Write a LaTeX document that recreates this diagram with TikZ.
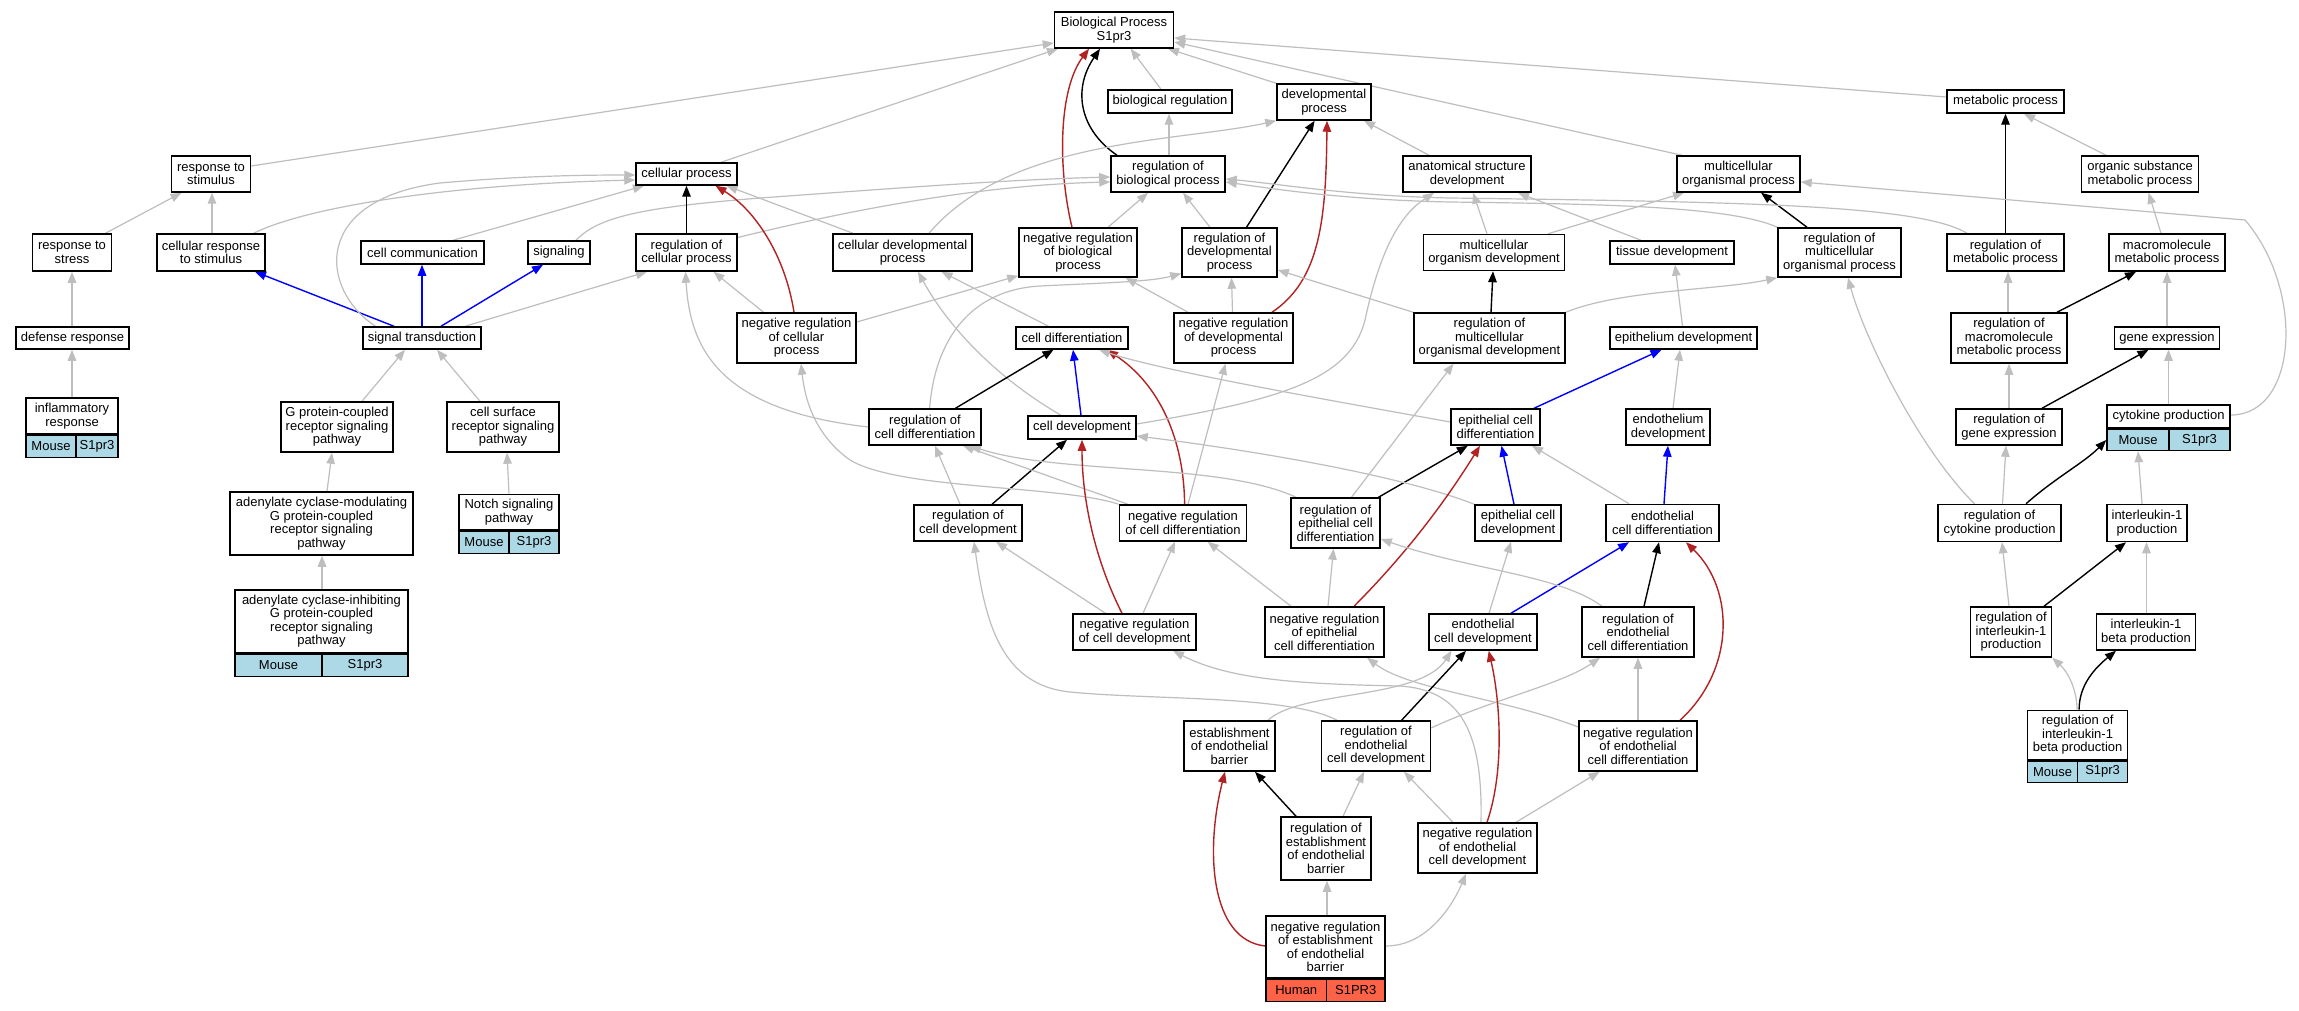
\documentclass[tikz,border=0pt]{standalone}
\usepackage{fontspec}
\setmainfont{Liberation Sans}
\usetikzlibrary{arrows.meta}
\pgfdeclarelayer{bg}
\pgfsetlayers{bg,main}
\definecolor{egc}{HTML}{BEBEBE}
\definecolor{erc}{HTML}{B22222}
\definecolor{ebc}{HTML}{0000FF}
\definecolor{lb}{HTML}{ADD8E6}
\definecolor{hum}{HTML}{FF6347}
\newcommand\nd[6]{\node[box,minimum width=#4pt,minimum height=#5pt] (#1) at (#2,#3) {#6};}
\newcommand\genes[7]{%
 \node[cell,fill=#2,minimum width=#3pt,minimum height=#7pt,anchor=north west] (#1M) at (#1.south west) {#5};
 \node[cell,fill=#2,minimum width=#4pt,minimum height=#7pt,anchor=north east] (#1S) at (#1.south east) {#6};}
\begin{document}
\begin{tikzpicture}[x=1pt,y=-1pt,
 box/.style={draw=black,line width=1.5pt,fill=white,inner sep=0pt,align=center,font=\fontsize{13}{13.5}\selectfont},
 cell/.style={draw=black,line width=1.5pt,inner sep=0pt,font=\fontsize{13}{13.5}\selectfont},
 edge/.style={line width=1.2pt,-{Triangle[length=11pt,width=8.5pt]}},
 eg/.style={edge,color=egc},
 ek/.style={edge,color=black,line width=1.4pt},
 er/.style={edge,color=erc,line width=1.4pt},
 eb/.style={edge,color=ebc,line width=1.4pt}]
\useasboundingbox (0,0) rectangle (2299,1011);
% nodes
\nd{bp}{1114}{30}{119}{36}{Biological Process\\S1pr3}
\nd{breg}{1170}{101.5}{124}{23}{biological regulation}
\nd{dev}{1324}{102}{94}{36}{developmental\\process}
\nd{met}{2005.5}{101.5}{117}{23}{metabolic process}
\nd{rstim}{211}{174}{79}{36}{response to\\stimulus}
\nd{cp}{686.5}{174}{101}{22}{cellular process}
\nd{rbp}{1168}{174}{114}{36}{regulation of\\biological process}
\nd{asd}{1467}{174}{128}{36}{anatomical structure\\development}
\nd{mop}{1738.5}{174}{123}{36}{multicellular\\organismal process}
\nd{osmp}{2140}{174}{117}{36}{organic substance\\metabolic process}
\nd{rstress}{72}{252.5}{79}{37}{response to\\stress}
\nd{crs}{211}{252.5}{108}{37}{cellular response\\to stimulus}
\nd{ccomm}{422.5}{252.5}{123}{23}{cell communication}
\nd{sig}{559}{252.5}{62}{23}{signaling}
\nd{rcp}{686.5}{252.5}{101}{37}{regulation of\\cellular process}
\nd{cdp}{902.5}{252.5}{139}{37}{cellular developmental\\process}
\nd{nrbp}{1078}{252.5}{118}{49}{negative regulation\\of biological\\process}
\nd{rdp}{1229.5}{252.5}{95}{49}{regulation of\\developmental\\process}
\nd{mod}{1494}{252.5}{141}{36}{multicellular\\organism development}
\nd{td}{1672}{252.5}{124}{23}{tissue development}
\nd{rmop}{1839.5}{252.5}{123}{49}{regulation of\\multicellular\\organismal process}
\nd{rmp}{2005.5}{252.5}{117}{37}{regulation of\\metabolic process}
\nd{mmp}{2167}{252.5}{116}{37}{macromolecule\\metabolic process}
\nd{def}{72.5}{338}{113}{22}{defense response}
\nd{st}{422}{338}{118}{22}{signal transduction}
\nd{nrcp}{796.5}{338}{119}{50}{negative regulation\\of cellular\\process}
\nd{cd}{1072}{338}{112}{22}{cell differentiation}
\nd{nrdp}{1233.5}{338}{119}{50}{negative regulation\\of developmental\\process}
\nd{rmod}{1489.5}{338}{151}{50}{regulation of\\multicellular\\organismal development}
\nd{epd}{1683.5}{338}{147}{22}{epithelium development}
\nd{rmmp}{2009}{338}{116}{50}{regulation of\\macromolecule\\metabolic process}
\nd{ge}{2167}{338}{105}{22}{gene expression}
\nd{infl}{72}{416}{92}{36}{inflammatory\\response}
\nd{gpcr}{337}{427}{112}{50}{G protein-coupled\\receptor signaling\\pathway}
\nd{csr}{503}{427}{112}{50}{cell surface\\receptor signaling\\pathway}
\nd{rcd}{925}{427}{112}{36}{regulation of\\cell differentiation}
\nd{cdev}{1082}{427.5}{108}{23}{cell development}
\nd{ecd}{1495.5}{427}{89}{36}{epithelial cell\\differentiation}
\nd{endev}{1668}{427}{84}{36}{endothelium\\development}
\nd{rge}{2009}{427}{106}{36}{regulation of\\gene expression}
\nd{cyto}{2168.5}{416.5}{123}{23}{cytokine production}
\nd{acm}{321.5}{523.5}{183}{63}{adenylate cyclase-modulating\\G protein-coupled\\receptor signaling\\pathway}
\nd{notch}{509}{512}{100}{35.5}{Notch signaling\\pathway}
\nd{rcdev}{968}{523}{108}{36}{regulation of\\cell development}
\nd{nrcd}{1183}{523}{127}{36}{negative regulation\\of cell differentiation}
\nd{repcd}{1335.5}{523}{89}{50}{regulation of\\epithelial cell\\differentiation}
\nd{ecdev}{1518}{523}{86}{36}{epithelial cell\\development}
\nd{ecdiff}{1662.5}{523}{113}{37}{endothelial\\cell differentiation}
\nd{rcyp}{1999.5}{523}{123}{37}{regulation of\\cytokine production}
\nd{il1}{2147}{523}{80}{37}{interleukin-1\\production}
\nd{aci}{321.5}{621}{173}{62.5}{adenylate cyclase-inhibiting\\G protein-coupled\\receptor signaling\\pathway}
\nd{nrcdev}{1134.5}{632}{123}{36}{negative regulation\\of cell development}
\nd{nrepcd}{1324.5}{632}{119}{50}{negative regulation\\of epithelial\\cell differentiation}
\nd{endcdev}{1483}{632}{108}{36}{endothelial\\cell development}
\nd{recd}{1638}{632}{112}{50}{regulation of\\endothelial\\cell differentiation}
\nd{ril1}{2011}{632}{81}{50}{regulation of\\interleukin-1\\production}
\nd{il1b}{2146}{632}{99}{36}{interleukin-1\\beta production}
\nd{eeb}{1229.5}{746}{91}{50}{establishment\\of endothelial\\barrier}
\nd{redev}{1376}{746}{109}{50}{regulation of\\endothelial\\cell development}
\nd{nrecd}{1638}{746}{118}{50}{negative regulation\\of endothelial\\cell differentiation}
\nd{ril1b}{2077.6}{735}{100}{49.5}{regulation of\\interleukin-1\\beta production}
\nd{reeb}{1326}{848.5}{90}{63}{regulation of\\establishment\\of endothelial\\barrier}
\nd{nredev}{1477.5}{848}{119}{50}{negative regulation\\of endothelial\\cell development}
\nd{nreeb}{1325.5}{947}{119}{62}{negative regulation\\of establishment\\of endothelial\\barrier}
% gene rows
\genes{infl}{lb}{50}{42}{Mouse}{S1pr3}{22}
\genes{notch}{lb}{50}{50}{Mouse}{S1pr3}{22}
\genes{aci}{lb}{87}{86}{Mouse}{S1pr3}{22.5}
\genes{cyto}{lb}{62}{61}{Mouse}{S1pr3}{21}
\genes{ril1b}{lb}{50}{50}{Mouse}{S1pr3}{21}
\genes{nreeb}{hum}{60.5}{58.5}{Human}{S1PR3}{22}
\begin{pgfonlayer}{bg}
\fill[white] (0,0) rectangle (2299,1011);
\draw[eg] ([yshift=8pt]rstim.east) -- ([yshift=-13pt]bp.west);
\draw[eg] ([xshift=34.5pt]cp.north) -- ([xshift=-56pt]bp.south);
\draw[eg] ([xshift=-9pt]breg.north) -- ([xshift=16.6pt]bp.south);
\draw[eg] (dev.north west) -- ([xshift=54pt]bp.south);
\draw[eg] ([xshift=-56.5pt]mop.north) -- ([yshift=-12pt]bp.east);
\draw[eg] ([yshift=4.5pt]met.west) -- ([yshift=-8pt]bp.east);
\draw[ek] ([xshift=-51pt]rbp.north) .. controls (1080,130) and (1072,90) .. ([xshift=-14pt]bp.south);
\draw[er] ([xshift=-6pt]nrbp.north) .. controls (1058,170) and (1058,90) .. ([xshift=-25pt]bp.south);
\draw[eg] ([xshift=1pt]rbp.north) -- ([xshift=-1pt]breg.south);
\draw[eg] ([xshift=-38pt]asd.north) -- ([xshift=40pt]dev.south);
\draw[eg] ([xshift=26.5pt]cdp.north) .. controls (1010,138) and (1180,142) .. (dev.south west);
\draw[ek] ([xshift=17pt]rdp.north) -- ([xshift=-9.4pt]dev.south);
\draw[er] ([xshift=38.5pt]nrdp.north) .. controls (1320,280) and (1326,220) .. ([xshift=3pt]dev.south);
\draw[eg] ([xshift=-34pt]osmp.north) -- ([xshift=18.5pt]met.south);
\draw[ek] (rmp.north) -- (met.south);
\draw[eg] ([xshift=-6pt]mmp.north) -- ([xshift=8.5pt]osmp.south);
\draw[ek] ([xshift=-32.5pt]rmop.north) -- ([xshift=22.5pt]mop.south);
\draw[eg] ([xshift=54pt]mod.north) -- ([xshift=-54.5pt]mop.south);
\draw[eg] ([xshift=-7pt]mod.north) -- ([xshift=6pt]asd.south);
\draw[eg] ([xshift=-31pt]td.north) -- ([xshift=51pt]asd.south);
\draw[eg] (rmop.north west) .. controls (1730,206) and (1600,204) .. (1450,202) .. controls (1350,200) and (1280,190) .. ([yshift=-8pt]rbp.east);
\draw[eg] ([xshift=-38.5pt]rmp.north) .. controls (1920,205) and (1750,202) .. (1450,198) .. controls (1350,196) and (1280,184) .. ([yshift=-5pt]rbp.east);
\draw[eg] ([yshift=1.5pt]cyto.east) .. controls (2298,415) and (2305,290) .. (2245,220) -- ([yshift=-8pt]mop.east);
\draw[eg] (ge.north) -- (mmp.south);
\draw[ek] ([xshift=48pt]rmmp.north) -- ([xshift=-31pt]mmp.south);
\draw[eg] ([xshift=-1pt]rmmp.north) -- ([xshift=2.5pt]rmp.south);
\draw[ek] ([xshift=33pt]rge.north) -- ([xshift=-18.5pt]ge.south);
\draw[eg] (rge.north) -- (rmmp.south);
\draw[eg] (cyto.north) -- ([xshift=1.5pt]ge.south);
\draw[ek] ([xshift=26.5pt]rcyp.north) .. controls (2055,478) and (2085,462) .. (cytoM.west);
\draw[eg] ([xshift=3pt]rcyp.north) -- ([xshift=-3pt]rge.south);
\draw[eg] ([xshift=-25pt]rcyp.north) .. controls (1920,450) and (1865,340) .. ([xshift=8.5pt]rmop.south);
\draw[eg] ([xshift=-5pt]il1.north) -- (cytoM.south);
\draw[eg] ([xshift=0.5pt]il1b.north) -- ([xshift=-0.5pt]il1.south);
\draw[ek] ([xshift=33pt]ril1.north) -- ([xshift=-21pt]il1.south);
\draw[eg] ([xshift=-2pt]ril1.north) -- ([xshift=2.5pt]rcyp.south);
\draw[eg] ([xshift=-0.6pt]ril1b.north) .. controls (2077,690) and (2068,672) .. (ril1.south east);
\draw[ek] ([xshift=1.5pt]ril1b.north) .. controls (2079,685) and (2095,668) .. ([xshift=-30pt]il1b.south);
\draw[eg] ([xshift=33.5pt]rstress.north) -- ([xshift=-29.5pt]rstim.south);
\draw[eg] ([xshift=1pt]crs.north) -- ([xshift=1pt]rstim.south);
\draw[eg] ([xshift=42.7pt]crs.north) .. controls (300,210) and (430,185) .. ([yshift=-6pt]cp.west);
\draw[eg] ([xshift=-0.5pt]def.north) -- (rstress.south);
\draw[eg] (infl.north) -- ([xshift=-0.5pt]def.south);
\draw[eb] ([xshift=-28pt]st.north) -- ([xshift=44pt]crs.south);
\draw[eb] (st.north) -- ([xshift=-0.5pt]ccomm.south);
\draw[eb] ([xshift=19pt]st.north) -- ([xshift=-16pt]sig.south);
\draw[eg] ([xshift=-46.5pt]st.north) .. controls (320,290) and (310,200) .. (440,183) .. controls (520,176) and (580,175) .. ([yshift=-1pt]cp.west);
\draw[eg] ([xshift=43pt]st.north) -- ([xshift=-39.5pt]rcp.south);
\draw[eg] ([xshift=30.5pt]ccomm.north) -- ([xshift=-42.5pt]cp.south);
\draw[eg] ([xshift=17pt]sig.north) .. controls (600,215) and (650,207) .. (760,198) .. controls (900,188) and (1000,180) .. ([yshift=-3pt]rbp.west);
\draw[eg] ([yshift=15pt]rcp.east) .. controls (850,210) and (980,185) .. ([yshift=-8pt]rbp.west);
\draw[ek] (rcp.north) -- (cp.south);
\draw[er] ([xshift=-2.5pt]nrcp.north) .. controls (785,255) and (755,210) .. ([xshift=29pt]cp.south);
\draw[eg] ([xshift=-33pt]nrcp.north) -- ([xshift=27pt]rcp.south);
\draw[eg] ([yshift=16pt]nrcp.east) -- ([yshift=2pt]nrbp.south west);
\draw[eg] ([xshift=-49.5pt]cdp.north) -- ([xshift=40pt]cp.south);
\draw[eg] ([xshift=30pt]nrbp.north) -- ([xshift=-20pt]rbp.south);
\draw[eg] ([xshift=-19.5pt]rdp.north) -- ([xshift=15pt]rbp.south);
\draw[eg] ([xshift=-45.5pt]nrdp.north) -- ([xshift=47.6pt]nrbp.south);
\draw[eg] ([xshift=-1pt]nrdp.north) -- ([xshift=2pt]rdp.south);
\draw[eg] (rmod.north west) -- ([yshift=-17.5pt]rdp.east);
\draw[ek] ([xshift=1.5pt]rmod.north) -- ([xshift=-1pt]mod.south);
\draw[eg] (rmod.north east) .. controls (1620,290) and (1720,290) .. (rmop.south west);
\draw[eg] ([xshift=-23.5pt]cd.north) -- ([xshift=39pt]cdp.south);
\draw[eg] ([xshift=-21pt]cdev.north) .. controls (1000,380) and (950,330) .. ([xshift=15.5pt]cdp.south);
\draw[ek] ([xshift=30.5pt]rcd.north) -- ([xshift=-18.5pt]cd.south);
\draw[eb] ([xshift=-1pt]cdev.north) -- ([xshift=1pt]cd.south);
\draw[er] ([xshift=1.6pt]nrcd.north) .. controls (1184,440) and (1160,385) .. ([xshift=35pt]cd.south);
\draw[eg] ([yshift=5pt]ecd.west) .. controls (1300,395) and (1160,370) .. ([xshift=27pt]cd.south);
\draw[eg] (rcd.west) .. controls (720,410) and (690,350) .. ([xshift=-1pt]rcp.south);
\draw[eg] ([xshift=4.6pt]rcd.north) .. controls (935,340) and (970,290) .. (1040,286) .. controls (1100,283) and (1150,282) .. ([yshift=-21pt]rdp.west);
\draw[eg] ([yshift=3.5pt]cdev.east) .. controls (1280,400) and (1350,380) .. (1365,320) .. controls (1380,250) and (1400,215) .. ([xshift=-33pt]asd.south);
\draw[eg] ([xshift=-8pt]rcdev.north) -- ([xshift=10pt]rcd.south);
\draw[ek] ([xshift=24pt]rcdev.north) -- ([xshift=-15pt]cdev.south);
\draw[eg] ([xshift=-55pt]nrcd.north) -- ([xshift=38pt]rcd.south);
\draw[eg] (nrcd.north west) .. controls (1060,485) and (900,490) .. (850,460) .. controls (815,435) and (805,400) .. ([xshift=4.5pt]nrcp.south);
\draw[eg] ([xshift=5pt]nrcd.north) -- ([xshift=-8pt]nrdp.south);
\draw[ek] ([xshift=43pt]repcd.north) -- ([xshift=-27.7pt]ecd.south);
\draw[eg] ([xshift=16pt]repcd.north) -- ([xshift=-36pt]rmod.south);
\draw[eg] ([xshift=-39.5pt]repcd.north) .. controls (1220,462) and (1060,475) .. ([xshift=45pt]rcd.south);
\draw[eb] ([xshift=-4pt]ecdev.north) -- ([xshift=6pt]ecd.south);
\draw[eg] (ecdev.north west) .. controls (1400,475) and (1250,450) .. ([yshift=-8.5pt]cdev.east);
\draw[eb] ([xshift=38.5pt]ecd.north) -- ([xshift=-22pt]epd.south);
\draw[eg] ([xshift=5pt]endev.north) -- ([xshift=-3.5pt]epd.south);
\draw[eg] ([xshift=-1pt]epd.north) -- ([xshift=3pt]td.south);
\draw[eg] ([xshift=-33.5pt]ecdiff.north) -- ([xshift=36.5pt]ecd.south);
\draw[eb] ([xshift=1.5pt]ecdiff.north) -- (endev.south);
\draw[eg] ([xshift=3.5pt]nrepcd.north) -- ([xshift=-2pt]repcd.south);
\draw[er] ([xshift=29.5pt]nrepcd.north) .. controls (1400,560) and (1440,510) .. ([xshift=-15.5pt]ecd.south);
\draw[eg] ([xshift=-33.5pt]nrepcd.north) -- ([xshift=24.7pt]nrcd.south);
\draw[eg] ([xshift=6pt]endcdev.north) -- ([xshift=-7pt]ecdev.south);
\draw[eb] ([xshift=28pt]endcdev.north) -- ([xshift=-33.5pt]ecdiff.south);
\draw[ek] ([xshift=6pt]recd.north) -- ([xshift=-3.5pt]ecdiff.south);
\draw[eg] ([xshift=-36pt]recd.north) .. controls (1560,575) and (1470,570) .. ([yshift=-16pt]repcd.east);
\draw[eg] (nrecd.north) -- (recd.south);
\draw[er] ([xshift=42pt]nrecd.north) .. controls (1735,670) and (1735,590) .. ([xshift=23.5pt]ecdiff.south);
\draw[eg] ([yshift=19pt]nrecd.west) .. controls (1500,697) and (1410,690) .. ([xshift=42.5pt]nrepcd.south);
\draw[eg] ([xshift=-39pt]redev.north) .. controls (1290,695) and (1150,700) .. (1070,692) .. controls (1000,685) and (985,620) .. ([xshift=6pt]rcdev.south);
\draw[ek] ([xshift=25.6pt]redev.north) -- ([xshift=-17pt]endcdev.south);
\draw[eg] ([xshift=-29pt]nrcdev.north) -- ([xshift=28pt]rcdev.south);
\draw[er] ([xshift=-12.5pt]nrcdev.north) .. controls (1095,560) and (1082,500) .. (cdev.south);
\draw[eg] ([xshift=8.5pt]nrcdev.north) -- ([xshift=-8pt]nrcd.south);
\draw[eg] ([yshift=18pt]redev.east) .. controls (1490,700) and (1560,685) .. ([xshift=-38pt]recd.south);
\draw[eg] ([xshift=38.5pt]eeb.north) .. controls (1300,690) and (1420,700) .. ([xshift=-31.5pt]endcdev.south);
\draw[ek] ([xshift=-30pt]reeb.north) -- ([xshift=25.5pt]eeb.south);
\draw[eg] ([xshift=17pt]reeb.north) -- ([xshift=-12pt]redev.south);
\draw[eg] ([xshift=-24.5pt]nredev.north) -- ([xshift=28pt]redev.south);
\draw[er] ([xshift=9.5pt]nredev.north) .. controls (1505,770) and (1500,700) .. ([xshift=5.7pt]endcdev.south);
\draw[eg] ([xshift=3.5pt]nredev.north) .. controls (1483,730) and (1460,690) .. (1400,686) .. controls (1300,684) and (1230,680) .. ([xshift=38.5pt]nrcdev.south);
\draw[eg] ([xshift=38.5pt]nredev.north) -- ([xshift=-38.5pt]nrecd.south);
\draw[eg] ([xshift=1.5pt]nreeb.north) -- ([xshift=1pt]reeb.south);
\draw[er] ([yshift=1pt]nreeb.west) .. controls (1210,940) and (1205,850) .. ([xshift=-4.5pt]eeb.south);
\draw[eg] ([yshift=1pt]nreeb.east) .. controls (1430,946) and (1455,900) .. ([xshift=-11.5pt]nredev.south);
\draw[eg] ([xshift=25pt]gpcr.north) -- ([xshift=-17pt]st.south);
\draw[eg] ([xshift=-23pt]csr.north) -- ([xshift=15pt]st.south);
\draw[eg] ([xshift=5.5pt]acm.north) -- ([xshift=-5pt]gpcr.south);
\draw[eg] (notch.north) -- ([xshift=4pt]csr.south);
\draw[eg] ([xshift=0.5pt]aci.north) -- ([xshift=0.5pt]acm.south);
\end{pgfonlayer}
\end{tikzpicture}
\end{document}
